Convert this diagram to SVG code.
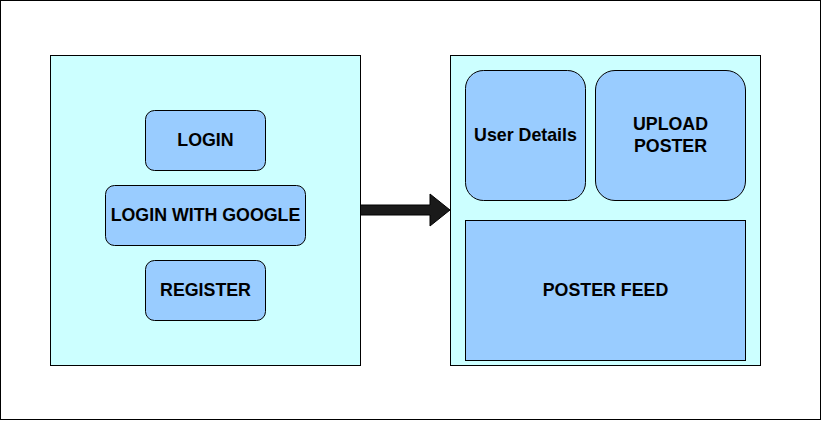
<svg xmlns="http://www.w3.org/2000/svg" width="822" height="421" viewBox="0 0 822 421">
<style>
.bg{fill:#ffffff;stroke:#000000;stroke-width:1}
.cont{fill:#CCFFFF;stroke:#000000;stroke-width:1}
.box{fill:#99CCFF;stroke:#000000;stroke-width:1}
.lbl{font-family:"Liberation Sans",Arial,sans-serif;font-weight:bold;font-size:17.8px;fill:#000000;text-anchor:middle}
</style>
<rect class="bg" x="0.5" y="0.5" width="820" height="419"/>
<g id="left-panel">
<rect class="cont" x="50.5" y="55.5" width="310" height="310"/>
</g>
<g id="right-panel">
<rect class="cont" x="450.5" y="55.5" width="310" height="310"/>
</g>
<g id="login">
<rect class="box" x="145.5" y="110.5" width="120" height="60" rx="9"/>
<text class="lbl" x="205.5" y="145.5">LOGIN</text>
</g>
<g id="login-google">
<rect class="box" x="105.5" y="185.5" width="200" height="60" rx="9"/>
<text class="lbl" x="205.5" y="220.5">LOGIN WITH GOOGLE</text>
</g>
<g id="register">
<rect class="box" x="145.5" y="260.5" width="120" height="60" rx="9"/>
<text class="lbl" x="205.5" y="295.5">REGISTER</text>
</g>
<g id="user-details">
<rect class="box" x="465.5" y="70.5" width="120" height="130" rx="18"/>
<text class="lbl" x="525.5" y="141">User Details</text>
</g>
<g id="upload-poster">
<rect class="box" x="595.5" y="70.5" width="150" height="130" rx="19.5"/>
<text class="lbl" x="670.5" y="130">UPLOAD</text>
<text class="lbl" x="670.5" y="151.5">POSTER</text>
</g>
<g id="poster-feed">
<rect class="box" x="465.5" y="220.5" width="280" height="140"/>
<text class="lbl" x="605.5" y="295.5">POSTER FEED</text>
</g>
<g id="connectors">
<path d="M360.5,205 L430,205 L430,194 L450,210 L430,226 L430,215 L360.5,215 Z" fill="#1A1A1A" stroke="#000000" stroke-width="1"/>
</g>
</svg>
